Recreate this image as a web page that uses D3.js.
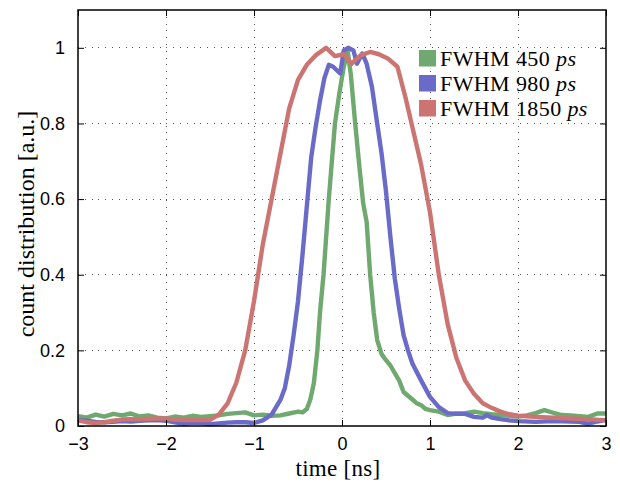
<!DOCTYPE html>
<html>
<head>
<meta charset="utf-8">
<script src="https://cdn.jsdelivr.net/npm/d3@7"></script>
<style>
  body { margin: 0; background: #fff; }
  svg { display: block; }
</style>
</head>
<body>
<svg id="chart" width="620" height="487"></svg>
<script>
// ---- data ----
const seriesNames = ["FWHM 450", "FWHM 980", "FWHM 1850"];
const seriesColors = ["#6fa96f", "#6a6ac8", "#cb7472"];

const greenT = [-3,-2.9,-2.8,-2.7,-2.6,-2.5,-2.4,-2.3,-2.2,-2.1,-2.0,-1.9,-1.8,-1.7,-1.6,-1.5,-1.4,-1.3,-1.2,-1.1,-1.0,-0.9,-0.8,-0.7,-0.6,-0.5,-0.45,-0.4,-0.36,-0.32,-0.28,-0.25,-0.21,-0.15,-0.08,-0.03,0.02,0.065,0.1,0.15,0.2,0.24,0.28,0.32,0.36,0.4,0.45,0.5,0.55,0.6,0.65,0.7,0.75,0.8,0.85,0.9,0.95,1.0,1.1,1.2,1.3,1.4,1.5,1.6,1.7,1.8,1.9,2.0,2.1,2.2,2.3,2.4,2.5,2.6,2.7,2.8,2.9,3.0];
const greenV = [0.026,0.022,0.030,0.025,0.032,0.028,0.033,0.025,0.028,0.022,0.020,0.025,0.022,0.027,0.024,0.026,0.028,0.032,0.034,0.036,0.028,0.030,0.027,0.028,0.033,0.038,0.036,0.045,0.070,0.113,0.200,0.300,0.400,0.600,0.800,0.880,0.950,0.990,0.930,0.800,0.680,0.590,0.540,0.400,0.300,0.227,0.190,0.174,0.160,0.140,0.120,0.090,0.080,0.070,0.060,0.055,0.045,0.042,0.038,0.029,0.033,0.034,0.038,0.034,0.031,0.029,0.027,0.025,0.028,0.034,0.042,0.035,0.029,0.028,0.026,0.024,0.033,0.033];

const blueT = [-3,-2.9,-2.8,-2.7,-2.6,-2.5,-2.4,-2.3,-2.2,-2.1,-2.0,-1.9,-1.8,-1.7,-1.6,-1.5,-1.4,-1.3,-1.2,-1.1,-1.0,-0.9,-0.8,-0.7,-0.65,-0.6,-0.55,-0.5,-0.45,-0.4,-0.35,-0.3,-0.25,-0.2,-0.15,-0.1,-0.02,0.02,0.07,0.13,0.17,0.23,0.28,0.34,0.4,0.45,0.5,0.55,0.6,0.65,0.7,0.75,0.8,0.9,1.0,1.1,1.2,1.3,1.4,1.5,1.6,1.65,1.7,1.8,1.9,2.0,2.2,2.4,2.6,2.7,2.8,2.9,3.0];
const blueV = [0.016,0.014,0.011,0.010,0.011,0.013,0.012,0.014,0.015,0.016,0.014,0.010,0.006,0.009,0.008,0.005,0.007,0.009,0.010,0.010,0.008,0.015,0.030,0.069,0.100,0.160,0.240,0.330,0.450,0.580,0.710,0.790,0.860,0.920,0.955,0.950,0.932,0.993,1.000,0.993,0.958,0.985,0.958,0.897,0.800,0.720,0.620,0.500,0.390,0.310,0.240,0.200,0.165,0.120,0.077,0.050,0.034,0.032,0.032,0.024,0.022,0.029,0.022,0.018,0.015,0.013,0.011,0.013,0.012,0.011,0.006,0.012,0.016];

const redT = [-3,-2.9,-2.8,-2.7,-2.6,-2.5,-2.4,-2.3,-2.2,-2.1,-2.0,-1.9,-1.8,-1.7,-1.6,-1.5,-1.4,-1.3,-1.2,-1.1,-1.0,-0.9,-0.8,-0.7,-0.6,-0.5,-0.4,-0.3,-0.18,-0.08,0.02,0.11,0.21,0.32,0.42,0.52,0.63,0.72,0.8,0.9,1.0,1.1,1.2,1.3,1.4,1.5,1.6,1.7,1.8,1.9,2.0,2.2,2.4,2.6,2.8,3.0];
const redV = [0.015,0.010,0.008,0.010,0.014,0.017,0.018,0.018,0.019,0.020,0.020,0.017,0.016,0.016,0.016,0.016,0.030,0.060,0.115,0.200,0.330,0.480,0.600,0.720,0.840,0.915,0.955,0.980,1.000,0.978,0.983,0.958,0.980,0.989,0.983,0.972,0.950,0.870,0.790,0.690,0.565,0.400,0.270,0.180,0.120,0.085,0.060,0.048,0.038,0.031,0.027,0.024,0.022,0.020,0.018,0.015];

const xTicks = [-3, -2, -1, 0, 1, 2, 3];
const yTicks = [0, 0.2, 0.4, 0.6, 0.8, 1];
const xLabel = "time [ns]";
const yLabel = "count distribution [a.u.]";

// ---- layout ----
const W = 620, H = 487;
const m = { left: 78, right: 14, top: 10, bottom: 61 };
const iw = W - m.left - m.right, ih = H - m.top - m.bottom;
const serif = "Liberation Serif";

const svg = d3.select("#chart");
const g = svg.append("g").attr("transform", `translate(${m.left},${m.top})`);

const x = d3.scaleLinear().domain([-3, 3]).range([0, iw]);
const y = d3.scaleLinear().domain([0, 1.1]).range([ih, 0]);

// grid
g.append("g").selectAll("line").data(xTicks.slice(1, -1)).join("line")
  .attr("x1", d => x(d)).attr("x2", d => x(d)).attr("y1", 0).attr("y2", ih)
  .attr("stroke", "#555").attr("stroke-width", 1).attr("stroke-dasharray", "1,5.8")
  .attr("shape-rendering", "crispEdges");
g.append("g").selectAll("line").data(yTicks.slice(1)).join("line")
  .attr("y1", d => y(d)).attr("y2", d => y(d)).attr("x1", 0).attr("x2", iw)
  .attr("stroke", "#555").attr("stroke-width", 1).attr("stroke-dasharray", "1,5.8")
  .attr("shape-rendering", "crispEdges");

// lines
const line = d3.line().x(d => x(d[0])).y(d => y(d[1]));
const series = [
  d3.zip(greenT, greenV),
  d3.zip(blueT, blueV),
  d3.zip(redT, redV)
];
g.append("g").selectAll("path").data(series).join("path")
  .attr("d", line)
  .attr("fill", "none")
  .attr("stroke", (d, i) => seriesColors[i])
  .attr("stroke-width", 4.4)
  .attr("stroke-linejoin", "round")
  .attr("stroke-linecap", "butt");

// axes (ticks inward)
const fmtX = d => d < 0 ? "\u2212" + Math.abs(d) : String(d);
const xAxis = d3.axisBottom(x).tickValues(xTicks).tickSizeInner(-6).tickSizeOuter(0).tickPadding(11.5).tickFormat(fmtX);
const yAxis = d3.axisLeft(y).tickValues(yTicks).tickSizeInner(-6).tickSizeOuter(0).tickPadding(13).tickFormat(d => String(d));

const gx = g.append("g").attr("transform", `translate(0,${ih})`).call(xAxis);
const gy = g.append("g").call(yAxis);
g.append("g").call(d3.axisTop(x).tickValues(xTicks).tickSizeInner(-6).tickSizeOuter(0).tickFormat(""));
g.append("g").attr("transform", `translate(${iw},0)`).call(d3.axisRight(y).tickValues(yTicks).tickSizeInner(-6).tickSizeOuter(0).tickFormat(""));

g.selectAll(".domain").remove();
g.selectAll(".tick line").attr("stroke", "#000").attr("stroke-width", 1);
[gx, gy].forEach(a => a.selectAll("text")
  .attr("font-family", "'Liberation Sans', Arial, sans-serif")
  .attr("font-size", 18).attr("fill", "#000"));

// frame
g.append("rect").attr("x", 0).attr("y", 0).attr("width", iw).attr("height", ih)
  .attr("fill", "none").attr("stroke", "#000").attr("stroke-width", 1.5);

// axis labels
svg.append("text")
  .attr("x", 338).attr("y", 475.5)
  .attr("text-anchor", "middle")
  .style("font-family", serif)
  .style("letter-spacing", "0.3px")
  .attr("font-size", 23)
  .text(xLabel);

svg.append("text")
  .attr("transform", "translate(34,224) rotate(-90)")
  .attr("text-anchor", "middle")
  .style("font-family", serif)
  .attr("font-size", 24)
  .text(yLabel);

// legend
const leg = svg.append("g");
seriesNames.forEach((name, i) => {
  const row = leg.append("g").attr("transform", `translate(419,${50 + i * 25})`);
  row.append("rect").attr("width", 17).attr("height", 16.5).attr("fill", seriesColors[i]);
  const t = row.append("text").attr("x", 21).attr("y", 15.5)
    .style("font-family", serif)
    .style("letter-spacing", "0.4px")
    .attr("font-size", 22);
  t.append("tspan").text(name + " ");
  t.append("tspan").attr("font-style", "italic").text("ps");
});
</script>
</body>
</html>
